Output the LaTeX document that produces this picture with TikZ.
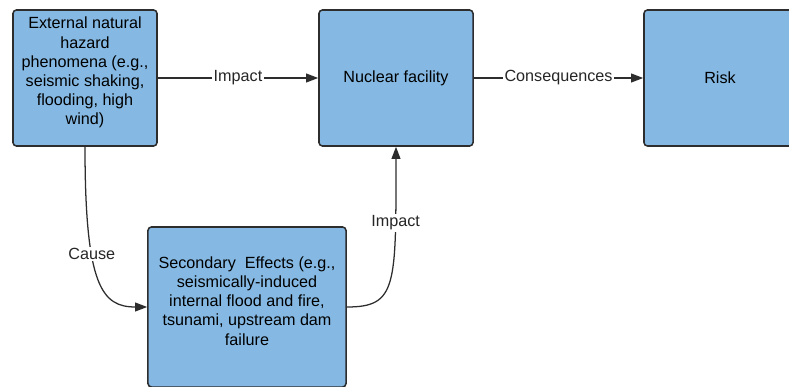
\documentclass[tikz,border=0pt]{standalone}
\usepackage{fontspec}
\setmainfont{Liberation Sans}
\usepackage{xcolor}
\usetikzlibrary{
    positioning,
    arrows.meta,
}
\definecolor{boxblue}{RGB}{133,185,227}
\definecolor{boxline}{RGB}{45,45,45}
\tikzset{
    % Block styles
    block/.style={rectangle, draw=boxline, line width=1.1pt, rounded corners=2.5pt,
                  fill=boxblue, align=center, inner sep=1mm,
                  font=\fontsize{11.5}{13.6}\selectfont},
    % Arrow styles
    arrow/.style={-{Triangle[length=3mm, width=2.2mm]}, line width=0.9pt, boxline},
    % Annotation styles
    annot/.style={fill=white, inner sep=1pt, text=black!85,
                  font=\fontsize{11.5}{13.6}\selectfont},
}

\begin{document}
\begin{tikzpicture}[
    x=0.025cm, y=-0.025cm,
    hazard/.style={block, minimum width=3.6cm, minimum height=3.4cm},
]
    \clip (0,0) rectangle (789,387);
    \useasboundingbox (0,0) rectangle (789,387);

    % Boxes
    \node[hazard] (ext) at (85, 78) {External natural\\hazard\\phenomena (e.g.,\\seismic shaking,\\flooding, high\\wind)\\[-3.5pt]\mbox{}};
    \node[block, minimum width=3.85cm, minimum height=3.4cm] (nuc) at (396, 78) {Nuclear facility};
    \node[block, minimum width=3.8cm, minimum height=3.4cm] (risk) at (720, 78) {Risk};
    \node[block, minimum width=4.95cm, minimum height=4cm] (sec) at (247, 307) {Secondary~ Effects (e.g.,\\seismically-induced\\internal flood and fire,\\tsunami, upstream dam\\failure\\[-5pt]\mbox{}};

    % Arrows
    \draw[arrow] (ext) -- node[annot] {Impact} (nuc);
    \draw[arrow] (nuc) -- node[annot] {Consequences} (risk);
    \draw[arrow] (ext.south) .. controls +(0, 140) and +(-45, 0) .. node[annot, pos=0.35] {Cause} (sec.west);
    \draw[arrow] (sec.east) .. controls +(50, 0) and +(0, 140) .. node[annot, pos=0.78] {Impact} (nuc.south);
\end{tikzpicture}
\end{document}
